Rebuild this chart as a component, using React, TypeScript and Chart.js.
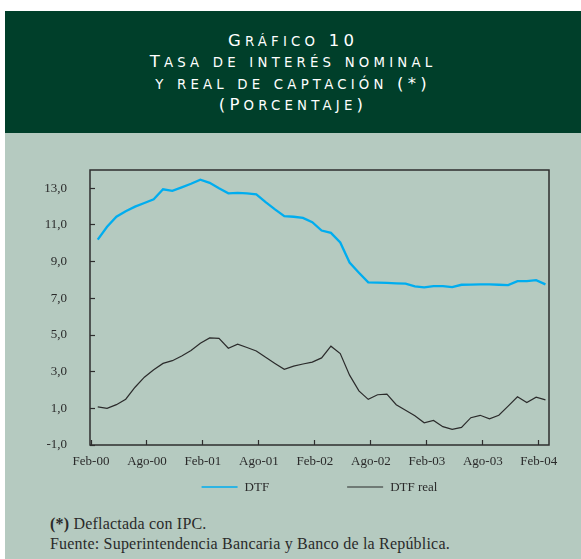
import React, { useEffect, useRef } from 'react';
import { Chart, registerables } from 'chart.js';

Chart.register(...registerables);

// ---------- data ----------
const months: string[] = [
  'Feb-00', 'Mar-00', 'Abr-00', 'May-00', 'Jun-00', 'Jul-00', 'Ago-00', 'Sep-00', 'Oct-00', 'Nov-00', 'Dic-00', 'Ene-01',
  'Feb-01', 'Mar-01', 'Abr-01', 'May-01', 'Jun-01', 'Jul-01', 'Ago-01', 'Sep-01', 'Oct-01', 'Nov-01', 'Dic-01', 'Ene-02',
  'Feb-02', 'Mar-02', 'Abr-02', 'May-02', 'Jun-02', 'Jul-02', 'Ago-02', 'Sep-02', 'Oct-02', 'Nov-02', 'Dic-02', 'Ene-03',
  'Feb-03', 'Mar-03', 'Abr-03', 'May-03', 'Jun-03', 'Jul-03', 'Ago-03', 'Sep-03', 'Oct-03', 'Nov-03', 'Dic-03', 'Ene-04',
  'Feb-04',
];

const dtf: number[] = [
  10.2, 10.9, 11.45, 11.75, 12.0, 12.2, 12.4, 12.95, 12.86, 13.05, 13.25, 13.47,
  13.3, 13.0, 12.73, 12.75, 12.72, 12.67, 12.25, 11.85, 11.48, 11.45, 11.39, 11.15,
  10.7, 10.57, 10.05, 8.95, 8.4, 7.87, 7.86, 7.84, 7.82, 7.8, 7.65, 7.6,
  7.67, 7.67, 7.61, 7.74, 7.75, 7.76, 7.76, 7.74, 7.72, 7.94, 7.94, 7.99,
  7.76,
];

const dtfReal: number[] = [
  1.08, 1.0, 1.2, 1.5, 2.15, 2.7, 3.1, 3.45, 3.6, 3.85, 4.15, 4.55,
  4.84, 4.82, 4.28, 4.5, 4.32, 4.13, 3.78, 3.45, 3.13, 3.3, 3.42, 3.52,
  3.75, 4.39, 3.99, 2.81, 1.95, 1.49, 1.74, 1.77, 1.2, 0.9, 0.59, 0.21,
  0.34, 0.0, -0.15, -0.04, 0.49, 0.62, 0.43, 0.62, 1.12, 1.63, 1.32, 1.61,
  1.46,
];

const xTickLabels: string[] = ['Feb-00', 'Ago-00', 'Feb-01', 'Ago-01', 'Feb-02', 'Ago-02', 'Feb-03', 'Ago-03', 'Feb-04'];
const yTickValues: number[] = [-1, 1, 3, 5, 7, 9, 11, 13];

const seriesLabels = ['DTF', 'DTF real'];

const titleLines = ['Gráfico 10', 'Tasa de interés nominal', 'y real de captación (*)', '(Porcentaje)'];

// ---------- layout / style ----------
const POINT_SHIFT = 0.72; // points sit slightly right of month ticks
const AXIS_COLOR = '#2e2e2e';
const FONT = '"Liberation Serif", "Times New Roman", serif';

const chartFrame = {
  id: 'chartFrame',
  afterDraw(chart: any) {
    const { ctx, chartArea } = chart;
    ctx.save();
    ctx.strokeStyle = AXIS_COLOR;
    ctx.lineWidth = 1.5;
    ctx.strokeRect(chartArea.left, chartArea.top, chartArea.right - chartArea.left, chartArea.bottom - chartArea.top);
    ctx.restore();
  },
};

const lineLegend = {
  id: 'lineLegend',
  afterDraw(chart: any) {
    const { ctx, chartArea } = chart;
    ctx.save();
    ctx.font = '13px ' + FONT;
    const sample = 36;
    const gapText = 7;
    const gapItem = 78;
    const items = chart.data.datasets.map((ds: any) => ({
      label: ds.label as string,
      color: ds.borderColor as string,
      lw: ds.legendLineWidth as number,
      tw: ctx.measureText(ds.label).width,
    }));
    const total =
      items.reduce((s: number, it: any) => s + sample + gapText + it.tw, 0) + gapItem * (items.length - 1);
    let x = (chartArea.left + chartArea.right) / 2 - total / 2;
    const y = chartArea.bottom + 42;
    ctx.textBaseline = 'middle';
    ctx.textAlign = 'left';
    items.forEach((it: any) => {
      ctx.strokeStyle = it.color;
      ctx.lineWidth = it.lw;
      ctx.beginPath();
      ctx.moveTo(x, y);
      ctx.lineTo(x + sample, y);
      ctx.stroke();
      ctx.fillStyle = '#2a2a2a';
      ctx.fillText(it.label, x + sample + gapText, y + 0.5);
      x += sample + gapText + it.tw + gapItem;
    });
    ctx.restore();
  },
};

function ChartPanel() {
  const ref = useRef<HTMLCanvasElement | null>(null);
  useEffect(() => {
    if (!ref.current) return;
    const chart = new Chart(ref.current, {
      type: 'line',
      data: {
        datasets: [
          {
            label: seriesLabels[0],
            data: dtf.map((v, i) => ({ x: i + POINT_SHIFT, y: v })),
            borderColor: '#00adef',
            borderWidth: 2.3,
            legendLineWidth: 1.6,
            pointRadius: 0,
            tension: 0,
          } as any,
          {
            label: seriesLabels[1],
            data: dtfReal.map((v, i) => ({ x: i + POINT_SHIFT, y: v })),
            borderColor: '#2b2b2b',
            borderWidth: 1.2,
            legendLineWidth: 1.2,
            pointRadius: 0,
            tension: 0,
          } as any,
        ],
      },
      options: {
        animation: false,
        responsive: false,
        maintainAspectRatio: false,
        layout: { padding: { left: 0, right: 32, top: 37, bottom: 0 } },
        plugins: {
          legend: { display: false },
          tooltip: { enabled: false },
          title: { display: false },
        },
        scales: {
          x: {
            type: 'linear',
            min: -0.11,
            max: 49.1,
            afterBuildTicks: (scale: any) => {
              scale.ticks = xTickLabels.map((_, k) => ({ value: months.indexOf(xTickLabels[k]) }));
            },
            afterFit: (scale: any) => {
              scale.height = 58;
            },
            ticks: {
              autoSkip: false,
              maxRotation: 0,
              padding: 14,
              color: '#2a2a2a',
              font: { family: FONT, size: 13 },
              callback: (v: any) => months[Math.round(Number(v))] ?? '',
            },
            grid: {
              drawOnChartArea: false,
              drawTicks: true,
              tickLength: -5,
              tickColor: AXIS_COLOR,
              tickWidth: 1.2,
            },
            border: { display: false },
          },
          y: {
            type: 'linear',
            min: -1,
            max: 14,
            afterBuildTicks: (scale: any) => {
              scale.ticks = yTickValues.map((v) => ({ value: v }));
            },
            afterFit: (scale: any) => {
              scale.width = 85;
            },
            ticks: {
              padding: 28,
              color: '#2a2a2a',
              font: { family: FONT, size: 13 },
              callback: (v: any) => Number(v).toFixed(1).replace('.', ','),
            },
            grid: {
              drawOnChartArea: false,
              drawTicks: true,
              tickLength: -5,
              tickColor: AXIS_COLOR,
              tickWidth: 1.2,
            },
            border: { display: false },
          },
        },
      } as any,
      plugins: [chartFrame, lineLegend],
    });
    return () => chart.destroy();
  }, []);
  return <canvas ref={ref} width={576} height={370} style={{ position: 'absolute', left: 5, top: 133, width: 576, height: 370 }} />;
}

// Small caps rendered explicitly: capitals/digits full size, lowercase as smaller capitals
function SmallCaps({ text, big, small }: { text: string; big: number; small: number }) {
  const runs: { t: string; s: boolean }[] = [];
  for (const ch of text) {
    const isSmall = ch !== ch.toUpperCase();
    const last = runs[runs.length - 1];
    if (last && last.s === isSmall) last.t += ch;
    else runs.push({ t: ch, s: isSmall });
  }
  return (
    <>
      {runs.map((r, i) => (
        <span key={i} style={{ fontSize: r.s ? small : big }}>
          {r.s ? r.t.toUpperCase() : r.t}
        </span>
      ))}
    </>
  );
}

export default function App() {
  useEffect(() => {
    document.body.style.margin = '0';
  }, []);
  return (
    <div style={{ position: 'relative', width: 581, height: 559, background: '#ffffff', overflow: 'hidden' }}>
      <div style={{ position: 'absolute', left: 5, top: 11, width: 576, height: 122, background: '#003f2a' }}>
        {titleLines.map((t, i) => (
          <div
            key={i}
            style={{
              position: 'absolute',
              left: 0,
              width: 576,
              top: 18 + i * 21.3,
              height: 22,
              lineHeight: '22px',
              textAlign: 'center',
              color: '#ffffff',
              fontFamily: '"DejaVu Sans", sans-serif',
              fontSize: 17,
              letterSpacing: 4.2,
              whiteSpace: 'nowrap',
            }}
          >
            <SmallCaps text={t} big={16.5} small={13.3} />
          </div>
        ))}
      </div>
      <div style={{ position: 'absolute', left: 5, top: 133, width: 576, height: 426, background: '#b5cac0' }} />
      <ChartPanel />
      <div
        style={{
          position: 'absolute',
          left: 50,
          top: 514,
          fontFamily: FONT,
          fontSize: 16,
          lineHeight: '20px',
          letterSpacing: 0.2,
          color: '#2a2a2a',
          whiteSpace: 'nowrap',
        }}
      >
        <div>
          <b>(*)</b> Deflactada con IPC.
        </div>
        <div>Fuente: Superintendencia Bancaria y Banco de la República.</div>
      </div>
    </div>
  );
}
